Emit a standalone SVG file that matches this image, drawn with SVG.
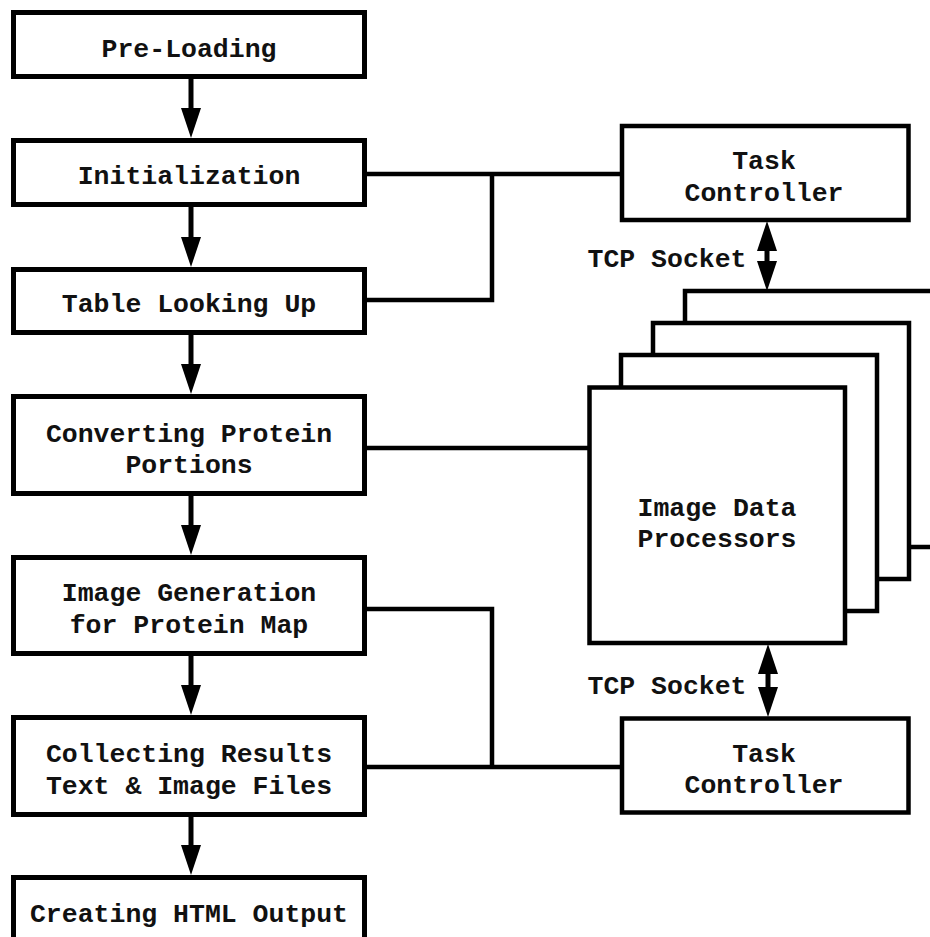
<svg xmlns="http://www.w3.org/2000/svg" width="930" height="937" viewBox="0 0 930 937">
<defs>
<style>
.box{fill:#fff;stroke:#000;stroke-width:5}
.pbox{fill:#fff;stroke:#000;stroke-width:4.5}
.lbl{font-family:"Liberation Mono","Courier New",monospace;font-weight:bold;font-size:26.5px;fill:#111;text-anchor:middle}
.wire{fill:none;stroke:#000;stroke-width:4.5}
.arr{fill:none;stroke:#000;stroke-width:5;marker-end:url(#ah)}
.dbl{fill:none;stroke:#000;stroke-width:5;marker-start:url(#ah);marker-end:url(#ah)}
</style>
<marker id="ah" markerUnits="userSpaceOnUse" markerWidth="30" markerHeight="20" refX="0" refY="10" orient="auto-start-reverse" viewBox="0 0 30 20">
<path d="M0,0 L30,10 L0,20 Z" fill="#000"/>
</marker>
</defs>
<rect width="930" height="937" fill="#fff"/>
<g id="connectors">
<path class="arr" d="M191,79 V108"/>
<path class="arr" d="M191,207 V237"/>
<path class="arr" d="M191,335 V364"/>
<path class="arr" d="M191,496 V525"/>
<path class="arr" d="M191,656 V685"/>
<path class="arr" d="M191,817 V845"/>
<path class="wire" d="M364,174 H622"/>
<path class="wire" d="M364,300 H492 V174"/>
<path class="wire" d="M364,448 H590"/>
<path class="wire" d="M364,609 H492 V767"/>
<path class="wire" d="M364,767 H622"/>
<path class="dbl" d="M767,251 V261"/>
<path class="dbl" d="M768,674 V687"/>
</g>
<g id="pre-loading">
<rect class="box" x="13.5" y="12.5" width="351" height="64"/>
<text class="lbl" x="189" y="57">Pre-Loading</text>
</g>
<g id="initialization">
<rect class="box" x="13.5" y="140.5" width="351" height="64"/>
<text class="lbl" x="189" y="184">Initialization</text>
</g>
<g id="table-looking-up">
<rect class="box" x="13.5" y="269.5" width="351" height="63"/>
<text class="lbl" x="189" y="312">Table Looking Up</text>
</g>
<g id="converting">
<rect class="box" x="13.5" y="396.5" width="351" height="97"/>
<text class="lbl" x="189" y="442">Converting Protein</text>
<text class="lbl" x="189" y="473">Portions</text>
</g>
<g id="image-generation">
<rect class="box" x="13.5" y="557.5" width="351" height="96"/>
<text class="lbl" x="189" y="601">Image Generation</text>
<text class="lbl" x="189" y="633">for Protein Map</text>
</g>
<g id="collecting">
<rect class="box" x="13.5" y="717.5" width="351" height="97"/>
<text class="lbl" x="189" y="762">Collecting Results</text>
<text class="lbl" x="189" y="794">Text &amp; Image Files</text>
</g>
<g id="creating-html">
<rect class="box" x="13.5" y="877.5" width="351" height="70"/>
<text class="lbl" x="189" y="922">Creating HTML Output</text>
</g>
<g id="task-controller-top">
<rect class="pbox" x="622" y="126" width="286.5" height="94"/>
<text class="lbl" x="764" y="169">Task</text>
<text class="lbl" x="764" y="201">Controller</text>
</g>
<g id="tcp-socket-top">
<text class="lbl" x="667" y="267">TCP Socket</text>
</g>
<g id="image-data-processors">
<rect class="pbox" x="685" y="291" width="256" height="256"/>
<rect class="pbox" x="653" y="323" width="256" height="256"/>
<rect class="pbox" x="621" y="355" width="256" height="256"/>
<rect class="pbox" x="589.5" y="387.5" width="255.5" height="255.5"/>
<text class="lbl" x="717" y="516">Image Data</text>
<text class="lbl" x="717" y="547">Processors</text>
</g>
<g id="tcp-socket-bottom">
<text class="lbl" x="667" y="694">TCP Socket</text>
</g>
<g id="task-controller-bottom">
<rect class="pbox" x="622" y="718.5" width="286.5" height="94"/>
<text class="lbl" x="764" y="762">Task</text>
<text class="lbl" x="764" y="793">Controller</text>
</g>
</svg>
